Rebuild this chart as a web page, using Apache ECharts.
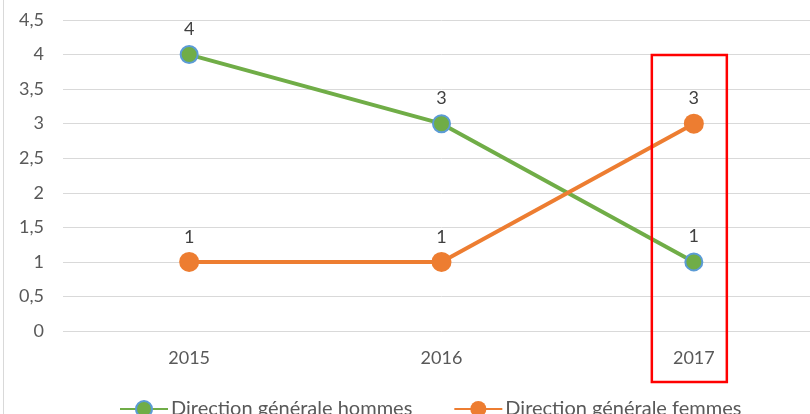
<!DOCTYPE html>
<html>
<head>
<meta charset="utf-8">
<script src="https://cdn.jsdelivr.net/npm/echarts@6/dist/echarts.min.js"></script>
<style>
  html, body { margin: 0; padding: 0; background: #fff; overflow: hidden; }
  #chart { width: 820px; height: 414px; }
</style>
</head>
<body>
<div id="chart"></div>
<script>
const years = ["2015", "2016", "2017"];
const hommes = [4, 3, 1];
const femmes = [1, 1, 3];
const highlightYear = "2017";

const FONT = "Lato, 'Open Sans', sans-serif";
const chart = echarts.init(document.getElementById("chart"), null, { renderer: "canvas" });

chart.setOption({
  backgroundColor: "#fff",
  animation: false,
  textStyle: { fontFamily: FONT },
  grid: { left: 63, right: 0, top: 20, bottom: 83 },
  legend: {
    top: 394,
    left: 114,
    itemGap: 41,
    itemWidth: 48,
    itemHeight: 20,
    textStyle: { color: "#595959", fontSize: 20, fontFamily: FONT, padding: [0, 0, 0, -2] },
    data: ["Direction générale hommes", "Direction générale femmes"],
  },
  xAxis: {
    type: "category",
    data: years,
    boundaryGap: true,
    axisLine: { show: false },
    axisTick: { show: false },
    axisLabel: { color: "#595959", fontSize: 18, margin: 18 },
  },
  yAxis: {
    type: "value",
    min: 0,
    max: 4.5,
    interval: 0.5,
    axisLine: { show: false },
    axisTick: { show: false },
    axisLabel: {
      color: "#595959",
      fontSize: 18,
      margin: 19,
      formatter: (v) => String(v).replace(".", ","),
    },
    splitLine: { lineStyle: { color: "#d9d9d9", width: 1 } },
  },
  series: [
    {
      name: "Direction générale hommes",
      type: "line",
      data: hommes,
      symbol: "circle",
      symbolSize: 17,
      lineStyle: { color: "#70ad47", width: 4 },
      itemStyle: { color: "#70ad47", borderColor: "#5b9bd5", borderWidth: 2 },
      label: { show: true, position: "top", distance: 7, color: "#404040", fontSize: 18 },
    },
    {
      name: "Direction générale femmes",
      type: "line",
      data: femmes,
      symbol: "circle",
      symbolSize: 20,
      lineStyle: { color: "#ed7d31", width: 4 },
      itemStyle: { color: "#ed7d31", borderColor: "#ed7d31", borderWidth: 0 },
      label: { show: true, position: "top", distance: 6, color: "#404040", fontSize: 18 },
    },
  ],
});

// annotations: chart border on the left and red box around the highlighted year
const cx = chart.convertToPixel({ xAxisIndex: 0 }, highlightYear);
chart.setOption({
  graphic: [
    {
      type: "line",
      shape: { x1: 3.5, y1: 0, x2: 3.5, y2: 414 },
      style: { stroke: "#d9d9d9", lineWidth: 1 },
    },
    {
      type: "rect",
      shape: { x: cx - 42, y: 55, width: 75, height: 327 },
      style: { fill: "none", stroke: "#ff0000", lineWidth: 2.5 },
      z: 100,
    },
  ],
});
</script>
</body>
</html>
